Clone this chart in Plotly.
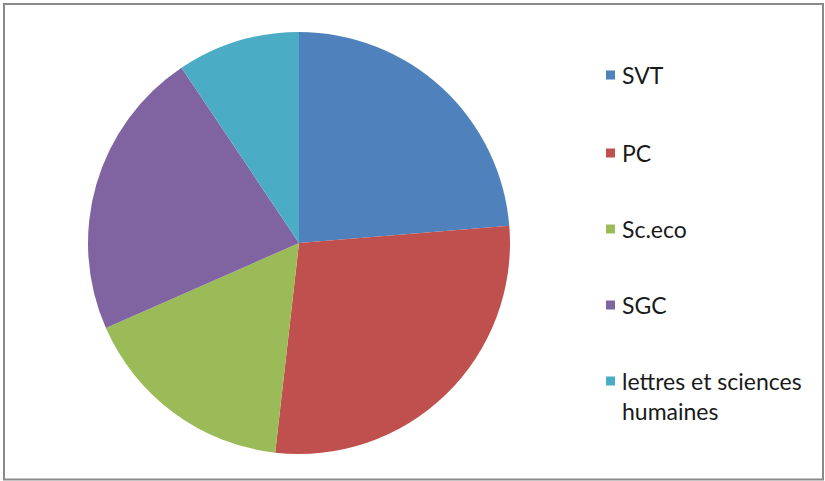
import plotly.graph_objects as go

labels = ["SVT", "PC", "Sc.eco", "SGC", "lettres et sciences<br>humaines"]
values = [23.7, 28.1, 16.6, 22.2, 9.4]
colors = ["#4F81BD", "#C0504D", "#9BBB59", "#8064A2", "#4BACC6"]

W, H = 825, 481
fig = go.Figure()
fig.add_trace(go.Pie(
    labels=labels, values=values, sort=False, direction="clockwise", rotation=0,
    marker=dict(colors=colors, line=dict(width=0)),
    textinfo="none", hoverinfo="label+percent", showlegend=False,
    domain=dict(x=[88 / W, 510 / W], y=[1 - 454 / H, 1 - 32 / H]),
))

# legend built from the categories
legend_y = [75, 153, 229, 305, 381]
shapes = [dict(type="rect", xref="paper", yref="paper",
               x0=4 / W, x1=823 / W, y0=1 - 479.5 / H, y1=1 - 4 / H,
               line=dict(color="#8a8a8a", width=2), fillcolor="rgba(0,0,0,0)")]
annotations = []
for lab, col, yc in zip(labels, colors, legend_y):
    shapes.append(dict(type="rect", xref="paper", yref="paper",
                       x0=606 / W, x1=615 / W, y0=1 - (yc + 4.5) / H, y1=1 - (yc - 4.5) / H,
                       line=dict(width=0), fillcolor=col))
    annotations.append(dict(text=lab, xref="paper", yref="paper", x=620 / W,
                            y=1 - (yc - 16) / H, xanchor="left", yanchor="top",
                            align="left", showarrow=False,
                            font=dict(family="Lato", size=23, color="#1a1a1a")))

fig.update_layout(width=W, height=H, margin=dict(l=0, r=0, t=0, b=0),
                  paper_bgcolor="white", plot_bgcolor="white",
                  shapes=shapes, annotations=annotations)
fig.write_html("out.html", config={"displayModeBar": False},
               post_script="document.body.style.margin='0';document.body.style.overflow='hidden';")
